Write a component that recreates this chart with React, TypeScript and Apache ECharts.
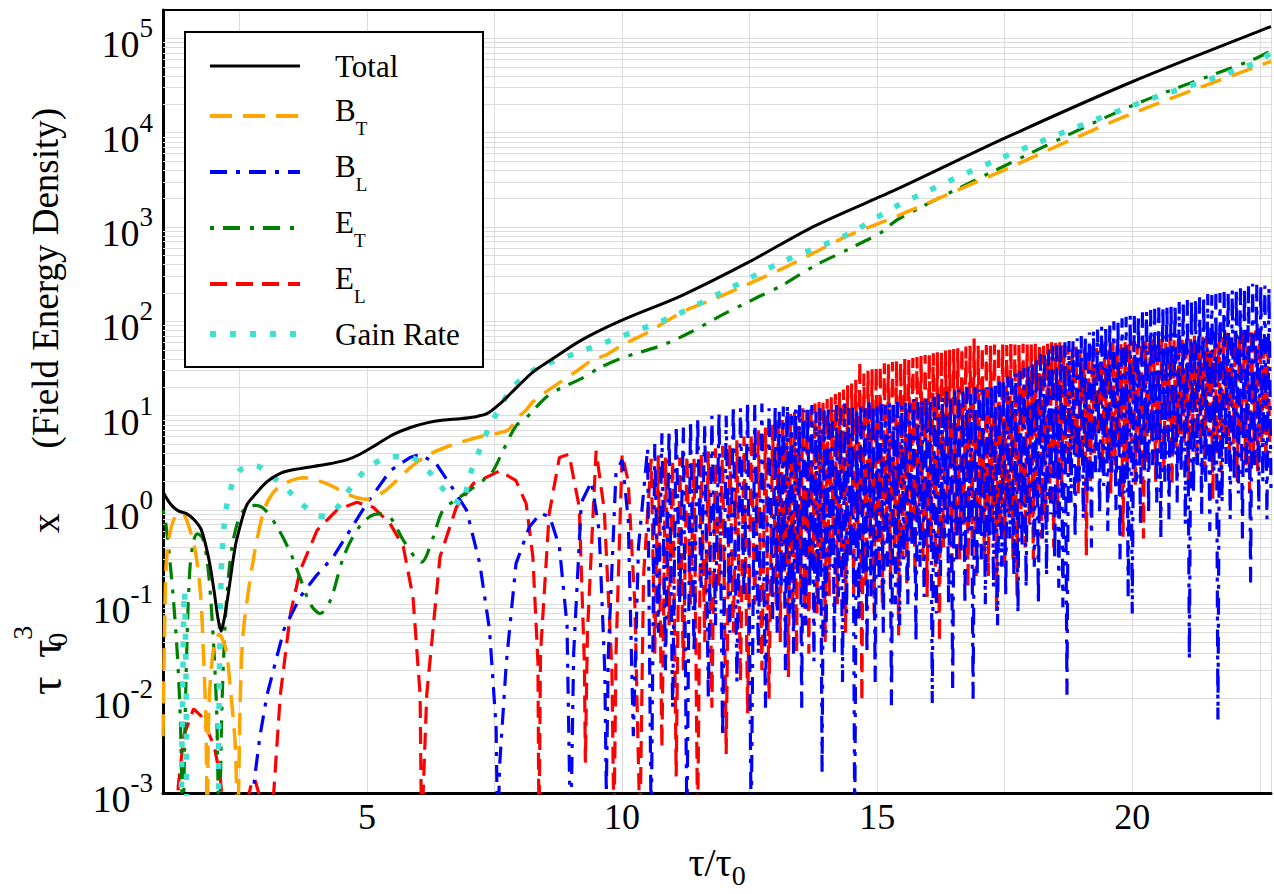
import React, { useEffect, useRef } from "react";
import * as echarts from "echarts";

const FONT = "Liberation Serif, DejaVu Serif, serif";

// ---------- data (tau/tau0, value) ----------
const totalData = [
  [1.0, 1.55], [1.15, 1.15], [1.3, 0.98], [1.45, 0.92], [1.6, 0.8], [1.75, 0.62], [1.9, 0.3],
  [2.0, 0.14], [2.08, 0.07], [2.14, 0.052], [2.2, 0.07], [2.28, 0.13], [2.42, 0.42], [2.55, 0.8],
  [2.65, 1.15], [2.8, 1.45], [3.04, 2.0], [3.3, 2.45], [3.6, 2.7], [4.21, 3.05], [4.6, 3.4],
  [4.86, 3.9], [5.2, 5.0], [5.51, 6.3], [5.85, 7.5], [6.17, 8.4], [6.5, 9.0], [6.82, 9.3],
  [7.1, 9.7], [7.35, 10.5], [7.6, 13.3], [7.92, 19.6], [8.25, 29], [8.57, 38], [9.22, 64],
  [10.0, 103], [11.18, 189], [12.48, 424], [13.78, 1030], [15.41, 2550], [17.51, 8800],
  [20.0, 34700], [22.5, 120000], [22.72, 133000]
];

const bTData = [
  [1.0, 0.004], [1.03, 0.05], [1.06, 0.25], [1.12, 0.52], [1.25, 0.88], [1.38, 0.92], [1.51, 0.66],
  [1.64, 0.35], [1.74, 0.12], [1.8, 0.024], [1.84, 0.006], [1.87, 0.0005], [1.9, 0.008], [1.99, 0.034],
  [2.1, 0.048], [2.23, 0.034], [2.32, 0.013], [2.42, 0.003], [2.46, 0.0004], [2.52, 0.013],
  [2.58, 0.055], [2.78, 0.32], [2.98, 1.0], [3.15, 1.5], [3.37, 1.9], [3.76, 2.2], [4.21, 1.9],
  [4.67, 1.43], [4.99, 1.3], [5.32, 1.55], [5.6, 2.1], [5.84, 2.8], [6.17, 3.76], [6.62, 4.8],
  [7.27, 6.1], [7.6, 6.6], [7.79, 7.2], [7.95, 9.5], [8.12, 11.5], [8.25, 14], [8.57, 18.9],
  [9.1, 29.5], [9.42, 39], [9.68, 44], [10.0, 56], [10.53, 78], [11.18, 126], [11.83, 175],
  [12.48, 250], [13.13, 360], [13.78, 540], [14.43, 810], [15.41, 1320], [17.36, 3760],
  [19.96, 15700], [22.72, 57000]
];

const eTData = [
  [1.0, 1.0], [1.05, 0.75], [1.12, 0.35], [1.2, 0.12], [1.28, 0.03], [1.34, 0.006], [1.39, 0.0004],
  [1.43, 0.005], [1.48, 0.06], [1.53, 0.25], [1.6, 0.47], [1.67, 0.56], [1.78, 0.5], [1.88, 0.25],
  [1.97, 0.06], [2.05, 0.008], [2.1, 0.0004], [2.16, 0.01], [2.24, 0.1], [2.35, 0.4], [2.5, 0.85],
  [2.65, 1.07], [2.8, 1.12], [2.98, 1.03], [3.24, 0.66], [3.5, 0.35], [3.69, 0.19], [3.89, 0.1],
  [4.08, 0.08], [4.28, 0.11], [4.54, 0.32], [4.8, 0.61], [5.05, 0.85], [5.25, 0.91], [5.45, 0.84],
  [5.71, 0.48], [5.97, 0.3], [6.07, 0.28], [6.3, 0.52], [6.49, 1.0], [6.82, 1.37], [7.27, 2.05],
  [7.47, 2.6], [7.66, 4.2], [7.92, 7.8], [8.12, 9.5], [8.57, 16.7], [9.22, 25], [9.55, 32],
  [10.0, 41], [10.79, 56], [11.37, 78], [11.96, 117], [12.61, 175], [13.13, 240], [13.78, 390],
  [14.43, 580], [15.08, 880], [15.41, 1210], [17.36, 4100], [19.96, 19000], [22.38, 60000],
  [22.72, 74000]
];

const gainData = [
  [1.34, 0.0001], [1.39, 0.02], [1.42, 0.14], [1.45, 0.02], [1.5, 0.0001], [2.05, 0.0001],
  [2.1, 0.01], [2.14, 0.2], [2.2, 0.7], [2.3, 1.5], [2.49, 2.6], [2.81, 2.95], [3.17, 2.2],
  [3.46, 1.6], [3.72, 1.16], [4.02, 0.88], [4.2, 0.86], [4.38, 1.0], [4.6, 1.5], [4.83, 2.2],
  [5.12, 3.07], [5.48, 3.67], [5.87, 3.6], [6.2, 2.6], [6.43, 1.82], [6.65, 1.35], [6.85, 1.16],
  [7.01, 2.3], [7.24, 4.8], [7.4, 7.6], [7.79, 18], [8.05, 25], [8.38, 33], [9.1, 46],
  [9.88, 66], [10.98, 112], [12.03, 213], [13.13, 425], [14.43, 840], [15.41, 1700],
  [17.36, 5200], [19.96, 19000], [22.38, 54000], [22.72, 70000]
];

// B_L: early humps, then oscillations sampled every 0.07 from 10.5, then every 0.04 from 13.0
const bLEarly = [
  [2.6, 0.0001], [2.75, 0.0008], [2.8, 0.0015], [2.9, 0.004], [3.04, 0.011], [3.37, 0.054],
  [3.69, 0.12], [4.0, 0.2], [4.34, 0.32], [4.99, 1.16], [5.45, 2.6], [5.84, 3.6], [6.04, 3.9],
  [6.36, 3.07], [6.62, 1.9], [6.95, 1.0], [7.21, 0.27], [7.4, 0.054], [7.53, 0.005], [7.56, 0.0003],
  [7.6, 0.002], [7.73, 0.024], [7.92, 0.27], [8.18, 0.66], [8.4, 0.92], [8.58, 0.85], [8.77, 0.41],
  [8.92, 0.06], [8.99, 0.0003], [9.05, 0.03], [9.2, 1.2], [9.4, 2.0], [9.55, 0.6], [9.66, 0.02],
  [9.69, 0.001], [9.73, 0.03], [9.88, 2.5], [10.0, 3.4], [10.12, 0.8], [10.22, 0.004], [10.32, 0.4]
];
const bLMidStart = 10.5;
const bLMidStep = 0.07;
const bLMid = [
  4.5, 0.0004, 5, 0.05, 6.5, 0.02, 7, 0.008, 8, 0.1,
  7.5, 0.0004, 9, 0.03, 9.5, 0.15, 8, 0.01, 10, 0.06,
  11, 0.004, 10, 0.05, 13, 0.015, 12, 0.12, 14, 0.0004,
  13, 0.03, 13.5, 0.008, 12, 0.07
];
const bLLateStart = 13.0;
const bLLateStep = 0.04;
const bLLate = [
  13, 0.05, 11, 0.15, 12.5, 0.02, 13, 0.08, 10, 0.03,
  12, 0.2, 13, 0.008, 11.5, 0.06, 12.5, 0.15, 13, 0.025,
  11, 0.1, 12, 0.0016, 12.5, 0.05, 13, 0.25, 11.5, 0.03,
  13, 0.12, 12, 0.015, 13.5, 0.08, 12.5, 0.3, 13, 0.0004,
  12, 0.07, 13.5, 0.2, 12, 0.03, 14, 0.12, 13, 0.015,
  12.5, 0.15, 14, 0.05, 13, 0.25, 14, 0.0085, 13, 0.1,
  14, 0.06, 13, 0.3, 14.5, 0.1, 13.5, 0.4, 15, 0.04,
  14, 0.25, 15, 0.12, 16, 0.4, 15, 0.009, 16, 0.08,
  17, 0.2, 16, 0.5, 18, 0.1, 17, 0.013, 18.5, 0.3,
  19, 0.35, 18, 0.1, 20, 0.6, 17, 0.01, 20, 0.2,
  19, 0.3, 21, 0.1, 20, 0.5, 22, 0.15, 21, 0.06,
  23, 0.25, 24, 0.12, 26, 0.5, 25, 0.2, 28, 0.08,
  30, 0.4, 32, 0.15, 36, 0.7, 38, 0.25, 42, 0.1,
  45, 0.5, 48, 0.2, 52, 0.9, 55, 0.3, 56, 0.15,
  58, 0.093, 60, 0.011, 62, 1.2, 64, 0.5, 66, 2,
  70, 0.8, 72, 1.5, 76, 0.4, 80, 2.5, 82, 0.9,
  88, 1.8, 92, 0.6, 96, 2.5, 100, 1.0, 104, 0.3,
  108, 1.5, 112, 0.12, 115, 0.08, 118, 2, 120, 0.7,
  125, 2.5, 128, 0.9, 132, 3, 136, 1.2, 140, 0.5,
  145, 2, 148, 0.8, 152, 3.5, 156, 1.2, 160, 2.5,
  165, 0.7, 168, 0.026, 172, 1.5, 176, 3, 180, 0.9,
  185, 2, 195, 0.6, 190, 2.5, 195, 0.006, 200, 1.2,
  205, 3, 210, 0.8, 215, 2, 220, 1.5, 225, 0.5,
  235, 2.5, 240, 0.17, 250, 3, 245, 1.0, 250, 2,
  240, 0.8, 230, 1.5
];

// E_L: early humps, then oscillations sampled every 0.07 from 10.57, then every 0.04 from 13.02
const eLEarly = [
  [1.25, 0.0003], [1.3, 0.0012], [1.41, 0.0041], [1.6, 0.0078], [1.74, 0.0066], [2.0, 0.0032],
  [2.12, 0.0015], [2.2, 0.0005], [2.62, 0.0007], [2.74, 0.0013], [2.8, 0.0014], [2.9, 0.0009],
  [3.05, 0.0006], [3.17, 0.001], [3.3, 0.011], [3.5, 0.081], [3.69, 0.23], [4.02, 0.61], [4.41, 1.0],
  [4.8, 1.21], [5.12, 1.07], [5.45, 0.72], [5.71, 0.41], [5.9, 0.12], [6.04, 0.011], [6.07, 0.0003],
  [6.1, 0.001], [6.17, 0.011], [6.43, 0.32], [6.75, 1.07], [7.08, 1.9], [7.6, 2.6], [7.92, 2.05],
  [8.12, 1.16], [8.25, 0.32], [8.35, 0.024], [8.37, 0.0003], [8.4, 0.03], [8.57, 0.91], [8.77, 3.6],
  [8.96, 3.9], [9.16, 1.07], [9.26, 0.024], [9.28, 0.0021], [9.32, 0.05], [9.49, 4.25], [9.65, 1.0],
  [9.8, 0.02], [9.84, 0.0004], [9.88, 0.03], [10.0, 3.9], [10.12, 2], [10.25, 0.1], [10.35, 0.0004],
  [10.42, 0.2]
];
const eLMidStart = 10.57;
const eLMidStep = 0.07;
const eLMid = [
  3.5, 0.03, 3.8, 0.003, 3.6, 0.06, 3.4, 0.0015, 3.6, 0.02,
  3.8, 0.1, 3.5, 0.0004, 4, 0.04, 4.2, 0.008, 4.5, 0.15,
  4.8, 0.0026, 5, 0.05, 5.5, 0.015, 6, 0.007, 6.5, 0.1,
  7, 0.02, 7.5, 0.01, 8
];
const eLLateStart = 13.02;
const eLLateStep = 0.04;
const eLLate = [
  0.1, 9, 0.04, 9.5, 0.2, 10, 0.017, 10.5, 0.08, 11,
  0.03, 11.5, 0.15, 12, 0.06, 12.5, 0.03, 13, 0.25, 13.5,
  0.08, 14, 0.3, 14.5, 0.04, 15, 0.12, 16, 0.4, 17,
  0.1, 18, 0.25, 19, 0.05, 21, 0.3, 22, 0.12, 24,
  0.4, 38, 0.0093, 28, 0.15, 30, 0.5, 31, 0.08, 33,
  0.3, 34, 0.1, 36, 0.6, 35, 0.15, 37, 0.4, 38,
  0.047, 37, 0.3, 40, 0.15, 39, 0.5, 41, 0.2, 42,
  0.6, 43, 0.3, 44, 0.12, 45, 0.5, 46, 0.25, 47,
  0.04, 48, 0.4, 49, 0.8, 50, 0.2, 51, 0.6, 52,
  0.3, 53, 0.7, 54, 0.15, 55, 0.5, 66, 0.2, 55,
  0.7, 54, 0.3, 56, 0.2, 55, 0.8, 57, 0.085, 55,
  0.6, 57, 0.25, 56, 0.8, 58, 0.3, 57, 0.12, 56,
  1, 58, 0.4, 57, 0.7, 59, 0.3, 58, 1.2, 59,
  0.5, 60, 0.8, 58, 1.3, 60, 0.4, 59, 1, 60,
  1.8, 56, 4, 55, 2.5, 52, 5, 54, 1.5, 50,
  3.5, 52, 0.33, 50, 2, 55, 4, 52, 6, 57,
  2.5, 58, 5, 55, 1.5, 60, 3, 56, 4.5, 58,
  0.52, 60, 2.5, 58, 5, 62, 1.8, 57, 4, 60,
  0.5, 62, 3, 59, 5.5, 64, 2, 60, 4, 65,
  2.5, 62, 6, 66, 1.8, 63, 4.5, 68, 3, 65,
  5, 70, 2, 66, 6, 72, 3, 68, 5, 72,
  2.5, 70, 6, 74, 1.3, 70, 4, 75, 2.5, 72,
  6, 76, 3, 74, 5, 78, 2, 75, 6, 80,
  3, 78, 1.5, 82, 4, 80, 2.5, 85, 5, 70,
  3, 65, 4
];

const xTickLabels = [5, 10, 15, 20];
const seriesNames = ["Total", "B_T", "B_L", "E_T", "E_L", "Gain Rate"];

// ---------- styling ----------
const GRID = "#dcdcdc";
const styles: Record<string, { color: string; width: number; dash: number[] | "solid"; lw: number }> = {
  Total: { color: "#000000", width: 3, dash: "solid", lw: 3 },
  B_T: { color: "#FFA500", width: 3.5, dash: [22, 11], lw: 4 },
  B_L: { color: "#0000FF", width: 3.2, dash: [17, 9, 4, 9], lw: 4 },
  E_T: { color: "#008000", width: 3.2, dash: [4, 9, 17, 10], lw: 4 },
  E_L: { color: "#FF0000", width: 3.2, dash: [17, 9], lw: 4 },
  "Gain Rate": { color: "#40E0D0", width: 5.5, dash: [6, 14], lw: 6 },
};

function sampled(start: number, step: number, vals: number[]) {
  return vals.map((v, i) => [Math.round((start + i * step) * 1000) / 1000, v]);
}

const bLData = bLEarly
  .concat(sampled(bLMidStart, bLMidStep, bLMid))
  .concat(sampled(bLLateStart, bLLateStep, bLLate));
const eLData = eLEarly
  .concat(sampled(eLMidStart, eLMidStep, eLMid))
  .concat(sampled(eLLateStart, eLLateStep, eLLate));

const dataByName: Record<string, number[][]> = {
  Total: totalData,
  B_T: bTData,
  B_L: bLData,
  E_T: eTData,
  E_L: eLData,
  "Gain Rate": gainData,
};

// minor log gridlines: 2..9 x 10^k
const minorGrid: { yAxis: number }[] = [];
for (let k = -3; k <= 4; k++) {
  for (let m = 2; m <= 9; m++) minorGrid.push({ yAxis: m * Math.pow(10, k) });
}

function legendText(name: string) {
  if (name.indexOf("_") > 0) {
    const [a, b] = name.split("_");
    return `{m|${a}}{s|${b}}`;
  }
  return `{m|${name}}`;
}

function buildOption() {
  const drawOrder = ["E_L", "B_L", "E_T", "B_T", "Gain Rate", "Total"];
  const series: any[] = [
    {
      name: "grid-minor",
      type: "line",
      data: [],
      silent: true,
      markLine: {
        silent: true,
        symbol: ["none", "none"],
        label: { show: false },
        z: 1,
        lineStyle: { type: "solid", color: GRID, width: 1 },
        emphasis: { disabled: true },
        data: minorGrid,
      },
    },
  ];
  drawOrder.forEach((name) => {
    const st = styles[name];
    const smooth = name === "B_L" || name === "E_L" ? false : 0.3;
    series.push({
      name,
      type: "line",
      data: dataByName[name],
      showSymbol: false,
      symbol: "none",
      smooth,
      clip: true,
      z: 3,
      lineStyle: { color: st.color, width: st.width, type: st.dash, cap: "butt" },
      emphasis: { disabled: true },
    });
  });

  const legendRows = [66, 116, 172, 228, 284, 334];
  const graphics: any[] = [
    {
      type: "rect",
      shape: { x: 185, y: 32, width: 298, height: 335 },
      style: { fill: "#ffffff", stroke: "#000000", lineWidth: 2 },
      z: 100,
    },
  ];
  seriesNames.forEach((name, i) => {
    const st = styles[name];
    const y = legendRows[i];
    graphics.push({
      type: "line",
      shape: { x1: 210, y1: y, x2: 300, y2: y },
      style: {
        stroke: st.color,
        lineWidth: st.lw,
        lineDash: st.dash === "solid" ? null : st.dash,
        lineCap: "butt",
      },
      z: 101,
    });
    const hasSub = name.indexOf("_") > 0;
    graphics.push({
      type: "text",
      x: 335,
      y: hasSub ? y - 6 : y,
      z: 101,
      style: {
        text: legendText(name),
        fill: "#000",
        fontFamily: FONT,
        fontSize: 31,
        align: "left",
        verticalAlign: "middle",
        textAlign: "left",
        textVerticalAlign: "middle",
        rich: {
          m: { fontSize: 31, fontFamily: FONT, fill: "#000" },
          s: { fontSize: 19, fontFamily: FONT, fill: "#000", padding: [36, 0, 0, 0] },
        },
      },
    });
  });

  return {
    animation: false,
    backgroundColor: "#ffffff",
    textStyle: { fontFamily: FONT },
    grid: { left: 162, right: 0, top: 10, bottom: 96, containLabel: false },
    xAxis: [
      {
        type: "value",
        min: 1,
        max: 22.72,
        minInterval: 5,
        maxInterval: 5,
        axisLine: { show: true, onZero: false, lineStyle: { color: "#000", width: 3 } },
        axisTick: { show: false },
        axisLabel: {
          color: "#000",
          fontFamily: FONT,
          fontSize: 36,
          margin: 6,
          formatter: (v: number) => (xTickLabels.indexOf(Math.round(v * 1000) / 1000) >= 0 ? String(v) : ""),
        },
        splitLine: { show: true, lineStyle: { color: GRID, width: 1 } },
        minorTick: { show: false, splitNumber: 2 },
        minorSplitLine: { show: true, lineStyle: { color: GRID, width: 1 } },
        name: "{m|τ/τ}{sb|0}",
        nameLocation: "middle",
        nameGap: 42,
        nameTextStyle: {
          color: "#000",
          fontFamily: FONT,
          rich: {
            m: { fontSize: 40, fontFamily: FONT, color: "#000" },
            sb: { fontSize: 28, fontFamily: FONT, color: "#000", padding: [26, 0, 0, 0] },
          },
        },
      },
      {
        type: "value",
        position: "top",
        min: 1,
        max: 22.72,
        axisLine: { show: true, onZero: false, lineStyle: { color: "#000", width: 2 } },
        axisTick: { show: false },
        axisLabel: { show: false },
        splitLine: { show: false },
      },
    ],
    yAxis: {
      type: "log",
      logBase: 10,
      min: 0.001,
      max: 200000,
      axisLine: { show: true, onZero: false, lineStyle: { color: "#000", width: 3 } },
      axisTick: { show: false },
      splitLine: { show: true, lineStyle: { color: GRID, width: 1 } },
      axisLabel: {
        margin: 10,
        color: "#000",
        fontFamily: FONT,
        formatter: (v: number) => {
          const e = Math.round(Math.log10(v));
          if (Math.abs(v / Math.pow(10, e) - 1) > 1e-6) return "";
          return `{b|10}{s|${e}}`;
        },
        rich: {
          b: { fontSize: 38, fontFamily: FONT, color: "#000", padding: [12, 0, 0, 0] },
          s: { fontSize: 27, fontFamily: FONT, color: "#000", padding: [0, 0, 20, 0] },
        },
      },
      name:
        "{t|τ}{m|  }{t|τ}{sb|0}{sp|3}{m|          }{x|x}{m|       (Field Energy Density)}",
      nameLocation: "middle",
      nameRotate: 90,
      nameGap: 81,
      nameTextStyle: {
        color: "#000",
        fontFamily: FONT,
        rich: {
          m: { fontSize: 37, fontFamily: FONT, color: "#000" },
          t: { fontSize: 46, fontFamily: FONT, color: "#000" },
          x: { fontSize: 40, fontFamily: FONT, color: "#000" },
          sb: { fontSize: 28, fontFamily: FONT, color: "#000", padding: [24, 0, 0, 0], width: 0 },
          sp: { fontSize: 28, fontFamily: FONT, color: "#000", padding: [0, 0, 46, 0] },
        },
      },
    },
    graphic: graphics,
    series,
  };
}

export default function App() {
  const ref = useRef<HTMLDivElement>(null);
  useEffect(() => {
    if (!ref.current) return;
    const chart = echarts.init(ref.current, null, { renderer: "svg" });
    chart.setOption(buildOption() as any);
    return () => chart.dispose();
  }, []);
  return (
    <div
      ref={ref}
      style={{ position: "absolute", left: 0, top: 0, width: 1274, height: 894, background: "#fff" }}
    />
  );
}
